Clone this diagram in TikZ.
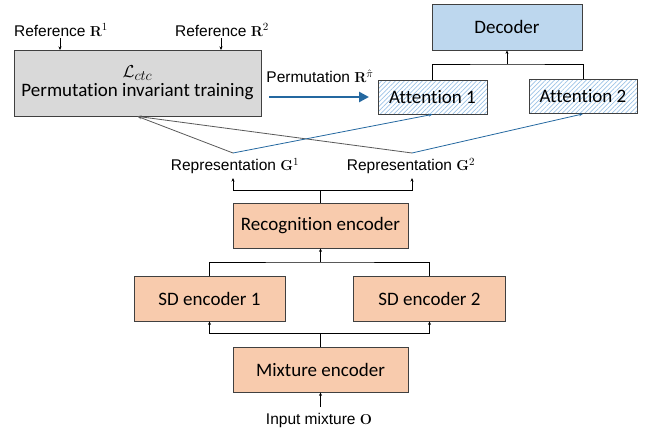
\documentclass[tikz,border=0pt]{standalone}
\usepackage[no-math]{fontspec}
\setmainfont[Ligatures=NoCommon]{Carlito}
\newfontfamily\labelfont{Liberation Sans}
\usetikzlibrary{arrows.meta,patterns.meta}
\definecolor{boxline}{RGB}{64,64,64}
\definecolor{grayfill}{RGB}{217,217,217}
\definecolor{bluefill}{RGB}{189,215,238}
\definecolor{orangefill}{RGB}{248,203,173}
\definecolor{hatchblue}{RGB}{155,194,230}
\definecolor{arrowblue}{RGB}{36,104,160}
\definecolor{linegray}{RGB}{89,89,89}
\begin{document}
\begin{tikzpicture}[x=1pt,y=-1pt,
  box/.style={draw=boxline,line width=0.8pt,minimum width=#1,inner sep=0pt,align=center,font=\fontsize{19}{21}\selectfont},
  box/.default={150pt},
  lab/.style={inner sep=1pt,font=\labelfont\fontsize{15.5}{17}\selectfont},
  conn/.style={line width=1pt,black},
  tip/.style={-{Stealth[length=3.5pt,width=3pt]}},
]
\useasboundingbox (0,0) rectangle (647,431);
% boxes
\node[box=247pt,minimum height=66pt,fill=grayfill] (gray) at (137.5,83)
  {$\mathcal{L}_{ctc}$\\[-2pt]Permutation invariant training};
\node[box=150pt,minimum height=46pt,fill=bluefill] (dec) at (507,27) {Decoder};
\node[box=109pt,minimum height=34pt,fill=white,pattern={Lines[angle=45,distance=3.2pt,line width=0.7pt]},pattern color=hatchblue] (att1bg) at (432.5,97) {};
\node[box=109pt,minimum height=34pt] (att1) at (432.5,97) {Attention 1};
\node[box=108pt,minimum height=34pt,fill=white,pattern={Lines[angle=45,distance=3.2pt,line width=0.7pt]},pattern color=hatchblue] (att2bg) at (583,96.5) {};
\node[box=108pt,minimum height=34pt] (att2) at (583,96.5) {Attention 2};
\node[box=175pt,minimum height=45pt,fill=orangefill] (rec) at (320.5,225.5) {Recognition encoder};
\node[box=151pt,minimum height=45pt,fill=orangefill] (sd1) at (209.5,298.5) {SD encoder 1};
\node[box=152pt,minimum height=45pt,fill=orangefill] (sd2) at (429.5,298.5) {SD encoder 2};
\node[box=175pt,minimum height=45pt,fill=orangefill] (mix) at (320.5,369.5) {Mixture encoder};
% labels
\node[lab] (ref1) at (61,30) {Reference $\mathbf{R}^1$};
\node[lab] (ref2) at (222,30) {Reference $\mathbf{R}^2$};
\node[lab] (perm) at (320,76) {Permutation $\mathbf{R}^{\hat{\pi}}$};
\node[lab] (rep1) at (235,166) {Representation $\mathbf{G}^1$};
\node[lab] (rep2) at (411,166) {Representation $\mathbf{G}^2$};
\node[lab] (inp) at (319,420) {Input mixture $\mathbf{O}$};
% coordinates
\coordinate (g1) at (233,153);
\coordinate (g2) at (412,153);
\coordinate (permA) at (269,97);
\coordinate (permB) at (369,97);
% references into gray box
\draw[conn,line width=0.7pt,tip] (60,38) -- (60,50);
\draw[conn,line width=0.7pt,tip] (221,38) -- (221,50);
% permutation arrow
\draw[arrowblue,line width=2.8pt,-{Triangle[length=10pt,width=10pt]}] (permA) -- (permB);
% attention to decoder
\draw[conn] (att1.north) |- (507,64) -| (att2.north);
\draw[conn,tip] (507,64) -- (dec.south);
% representation lines
\draw[linegray,line width=0.8pt,-{Stealth[length=4pt,width=3pt]}] (g1) -- (gray.south);
\draw[linegray,line width=0.8pt,-{Stealth[length=4pt,width=3pt]}] (g2) -- (gray.south);
\draw[arrowblue,line width=0.8pt,-{Stealth[length=4pt,width=3pt]}] (g1) -- (att1.south);
\draw[arrowblue,line width=0.8pt,-{Stealth[length=4pt,width=3pt]}] (g2) -- (att2.south);
% recognition to representations
\draw[conn] (rec.north) -- (320.5,190);
\draw[conn,tip] (320.5,190) -| (233,178);
\draw[conn,tip] (320.5,190) -| (412,178);
% SD to recognition
\draw[conn] (sd1.north) |- (320.5,262) -| (sd2.north);
\draw[conn,tip] (320.5,262) -- (rec.south);
% mixture to SD
\draw[conn] (mix.north) -- (320.5,333);
\draw[conn,tip] (320.5,333) -| (sd1.south);
\draw[conn,tip] (320.5,333) -| (sd2.south);
% input to mixture
\draw[conn,tip] (320.5,407) -- (mix.south);
\end{tikzpicture}
\end{document}
